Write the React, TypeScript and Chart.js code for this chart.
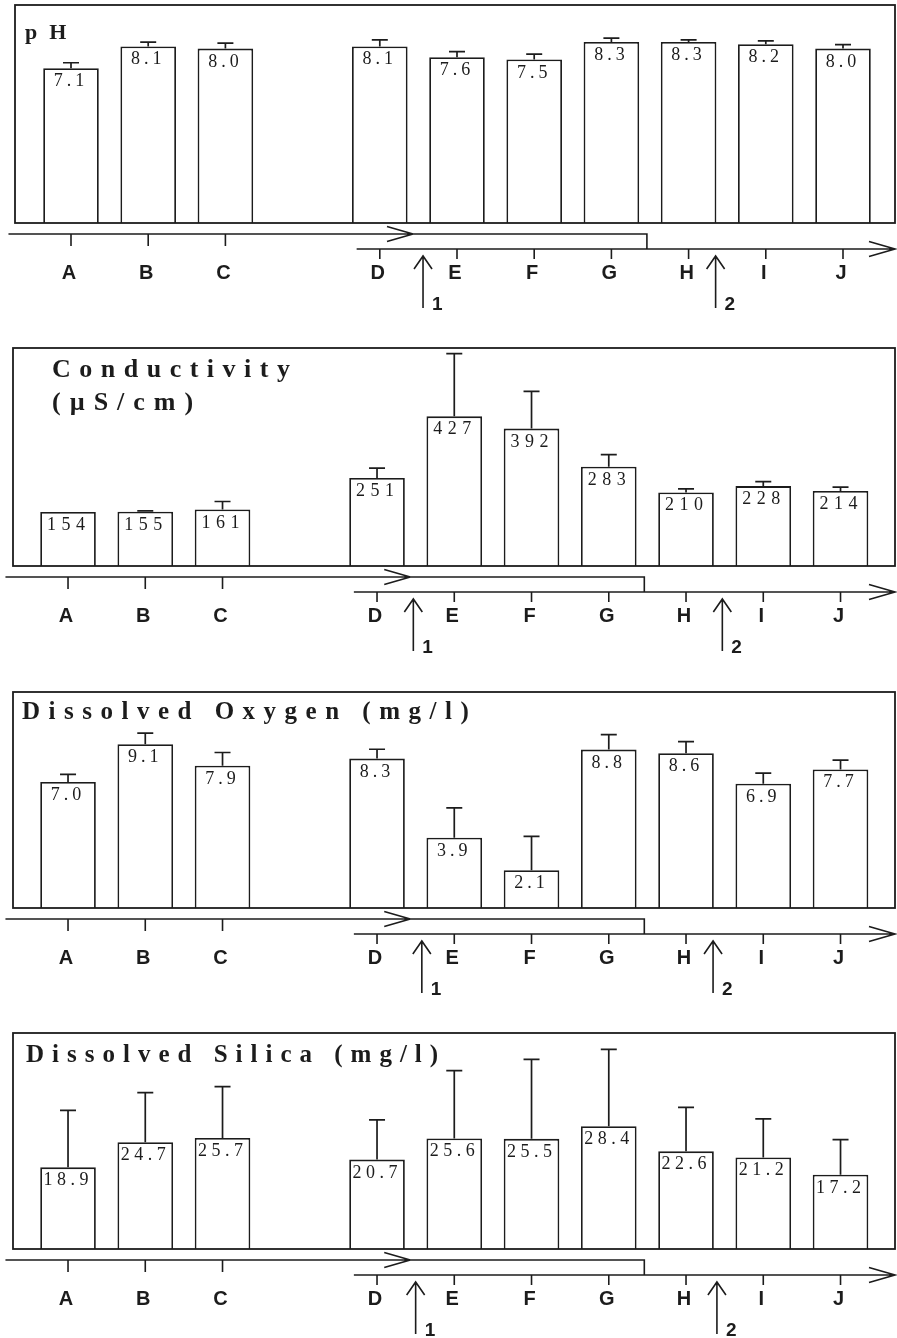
import React, { useEffect, useRef } from 'react';
import { Chart, registerables } from 'chart.js';

Chart.register(...registerables);

// ---------- data ----------
const categories = ['A', 'B', 'C', '', 'D', 'E', 'F', 'G', 'H', 'I', 'J'];
const upperLineStations = ['A', 'B', 'C'];

const phValues = [7.1, 8.1, 8.0, null, 8.1, 7.6, 7.5, 8.3, 8.3, 8.2, 8.0];
const phErrors = [0.25, 0.2, 0.25, null, 0.3, 0.26, 0.25, 0.18, 0.1, 0.15, 0.18];

const condValues = [154, 155, 161, null, 251, 427, 392, 283, 210, 228, 214];
const condErrors = [0, 2, 23, null, 28, 179, 106, 35, 10, 13, 11];

const doValues = [7.0, 9.1, 7.9, null, 8.3, 3.9, 2.1, 8.8, 8.6, 6.9, 7.7];
const doErrors = [0.42, 0.62, 0.74, null, 0.52, 1.66, 1.88, 0.83, 0.64, 0.59, 0.52];

const silicaValues = [18.9, 24.7, 25.7, null, 20.7, 25.6, 25.5, 28.4, 22.6, 21.2, 17.2];
const silicaErrors = [13.2, 11.5, 11.9, null, 9.2, 15.7, 18.4, 17.8, 10.2, 8.9, 8.1];

const phTitle = ['pH'];
const condTitle = ['Conductivity', '(\u00b5S/cm)'];
const doTitle = ['Dissolved Oxygen (mg/l)'];
const silicaTitle = ['Dissolved Silica (mg/l)'];

const arrowLabels = ['1', '2'];

// ---------- layout / style ----------
const W = 897;
const INK = '#1c1c1c';
const SERIF = '"Liberation Serif", "Times New Roman", serif';
const SANS = '"Liberation Sans", Arial, sans-serif';

type PanelCfg = {
  title: string[];
  titleSize: number;
  titleSpacing: number[];
  titleX: number;
  titleY: number[];
  values: (number | null)[];
  errors: (number | null)[];
  max: number;
  decimals: number;
  labelSpacing: number;
  top: number;
  height: number;
  boxH: number;
  padLeft: number;
  slot: number;
  boxL: number;
  arrowIdx: number[];
};

const panels: PanelCfg[] = [
  {
    title: phTitle, titleSize: 22, titleSpacing: [12], titleX: 10, titleY: [34],
    values: phValues, errors: phErrors, max: 10, decimals: 1, labelSpacing: 4,
    top: 0, height: 320, boxH: 218, padLeft: 32.4, slot: 77.2, boxL: 15, arrowIdx: [4.56, 8.35],
  },
  {
    title: condTitle, titleSize: 26, titleSpacing: [8.5, 9], titleX: 39, titleY: [29, 62],
    values: condValues, errors: condErrors, max: 622, decimals: 0, labelSpacing: 5.5,
    top: 343, height: 320, boxH: 218, padLeft: 29.4, slot: 77.25, boxL: 13, arrowIdx: [4.47, 8.47],
  },
  {
    title: doTitle, titleSize: 25, titleSpacing: [8.5], titleX: 9, titleY: [27],
    values: doValues, errors: doErrors, max: 12, decimals: 1, labelSpacing: 4,
    top: 687, height: 320, boxH: 216, padLeft: 29.4, slot: 77.25, boxL: 13, arrowIdx: [4.58, 8.35],
  },
  {
    title: silicaTitle, titleSize: 25, titleSpacing: [8], titleX: 13, titleY: [29],
    values: silicaValues, errors: silicaErrors, max: 50, decimals: 1, labelSpacing: 4.5,
    top: 1028, height: 310, boxH: 216, padLeft: 29.4, slot: 77.25, boxL: 13, arrowIdx: [4.5, 8.4],
  },
];

function drawSpaced(
  ctx: CanvasRenderingContext2D,
  text: string,
  x: number,
  y: number,
  spacing: number,
  align: 'left' | 'center'
) {
  const chars = Array.from(text);
  const widths = chars.map((c) => ctx.measureText(c).width);
  const total = widths.reduce((a, b) => a + b, 0) + spacing * (chars.length - 1);
  let cx = align === 'center' ? x - total / 2 : x;
  ctx.textAlign = 'left';
  chars.forEach((c, i) => {
    ctx.fillText(c, cx, y);
    cx += widths[i] + spacing;
  });
}

function makePlugin(cfg: PanelCfg) {
  return {
    id: 'panelDecor',
    afterDatasetsDraw(chart: any) {
      const ctx: CanvasRenderingContext2D = chart.ctx;
      const area = chart.chartArea;
      const xs = chart.scales.x;
      const ys = chart.scales.y;
      const meta = chart.getDatasetMeta(0);
      const top = area.top;
      const bottom = area.bottom;
      ctx.save();
      ctx.strokeStyle = INK;
      ctx.fillStyle = INK;
      ctx.lineWidth = 1.8;
      ctx.lineCap = 'butt';

      // frame
      ctx.strokeRect(cfg.boxL, top, 895 - cfg.boxL, bottom - top);

      // error bars + value labels
      cfg.values.forEach((v, i) => {
        if (v == null) return;
        const bar = meta.data[i];
        const x = bar.x;
        const yTop = ys.getPixelForValue(v);
        const err = cfg.errors[i] || 0;
        ctx.lineWidth = 1.7;
        if (err > 0) {
          const yErr = ys.getPixelForValue(v + err);
          ctx.beginPath();
          ctx.moveTo(x, yTop);
          ctx.lineTo(x, yErr);
          ctx.moveTo(x - 8, yErr);
          ctx.lineTo(x + 8, yErr);
          ctx.stroke();
        }
        ctx.font = `18px ${SERIF}`;
        ctx.textBaseline = 'alphabetic';
        drawSpaced(ctx, v.toFixed(cfg.decimals), x - 2, yTop + 18, cfg.labelSpacing, 'center');
      });

      // titles
      cfg.title.forEach((t, k) => {
        ctx.font = `bold ${cfg.titleSize}px ${SERIF}`;
        drawSpaced(ctx, t, cfg.boxL + cfg.titleX, top + cfg.titleY[k], cfg.titleSpacing[k], 'left');
      });

      // flow-line diagram below
      const px = (i: number) => xs.getPixelForValue(i);
      const y1 = bottom + 11;
      const y2 = bottom + 26;
      const x1s = px(-0.81);
      const xHead1 = px(4.43);
      const xDrop = px(7.46);
      const x2s = px(3.7);
      const x2e = 895;
      ctx.lineWidth = 1.6;
      ctx.beginPath();
      ctx.moveTo(x1s, y1);
      ctx.lineTo(xDrop, y1);
      ctx.lineTo(xDrop, y2);
      ctx.moveTo(x2s, y2);
      ctx.lineTo(x2e, y2);
      // open arrowheads
      ctx.moveTo(xHead1 - 26, y1 - 7.5);
      ctx.lineTo(xHead1, y1);
      ctx.lineTo(xHead1 - 26, y1 + 7.5);
      ctx.moveTo(x2e - 26, y2 - 7.5);
      ctx.lineTo(x2e, y2);
      ctx.lineTo(x2e - 26, y2 + 7.5);
      ctx.stroke();

      // ticks and station labels
      categories.forEach((c, i) => {
        if (!c) return;
        const x = px(i);
        const onUpper = upperLineStations.includes(c);
        const ly = onUpper ? y1 : y2;
        ctx.beginPath();
        ctx.moveTo(x, ly);
        ctx.lineTo(x, ly + (onUpper ? 12 : 10));
        ctx.stroke();
        ctx.font = `bold 20px ${SANS}`;
        ctx.textAlign = 'center';
        ctx.fillText(c, x - 2, bottom + 56);
      });

      // vertical arrows 1 and 2
      cfg.arrowIdx.forEach((ai, k) => {
        const x = px(ai);
        const tip = bottom + 33;
        ctx.beginPath();
        ctx.moveTo(x, tip);
        ctx.lineTo(x, bottom + 85);
        ctx.moveTo(x - 9, tip + 13);
        ctx.lineTo(x, tip);
        ctx.lineTo(x + 9, tip + 13);
        ctx.stroke();
        ctx.font = `bold 19px ${SANS}`;
        ctx.textAlign = 'left';
        ctx.fillText(arrowLabels[k], x + 9, bottom + 87);
      });

      ctx.restore();
    },
  };
}

function Panel({ cfg }: { cfg: PanelCfg }) {
  const ref = useRef<HTMLCanvasElement>(null);
  useEffect(() => {
    if (!ref.current) return;
    const right = cfg.padLeft + 11 * cfg.slot;
    const chart = new Chart(ref.current, {
      type: 'bar',
      data: {
        labels: categories,
        datasets: [
          {
            data: cfg.values as any,
            backgroundColor: '#ffffff',
            borderColor: INK,
            borderWidth: 1.8,
            borderSkipped: 'bottom',
            barPercentage: 0.72,
            categoryPercentage: 1.0,
          },
        ],
      },
      options: {
        responsive: false,
        animation: false,
        devicePixelRatio: 1,
        layout: {
          padding: {
            left: cfg.padLeft,
            right: W - right,
            top: 5,
            bottom: cfg.height - 5 - cfg.boxH,
          },
        },
        plugins: {
          legend: { display: false },
          tooltip: { enabled: false },
        },
        scales: {
          x: { display: false, offset: true },
          y: { display: false, min: 0, max: cfg.max },
        },
      },
      plugins: [makePlugin(cfg)],
    });
    return () => chart.destroy();
  }, [cfg]);
  return (
    <canvas
      ref={ref}
      width={W}
      height={cfg.height}
      style={{ position: 'absolute', left: 0, top: cfg.top, width: W, height: cfg.height, display: 'block' }}
    />
  );
}

export default function App() {
  return (
    <div
      style={{
        position: 'absolute',
        left: 0,
        top: 0,
        width: W,
        height: 1338,
        overflow: 'hidden',
        background: '#ffffff',
      }}
    >
      {panels.map((p, i) => (
        <Panel key={i} cfg={p} />
      ))}
    </div>
  );
}
